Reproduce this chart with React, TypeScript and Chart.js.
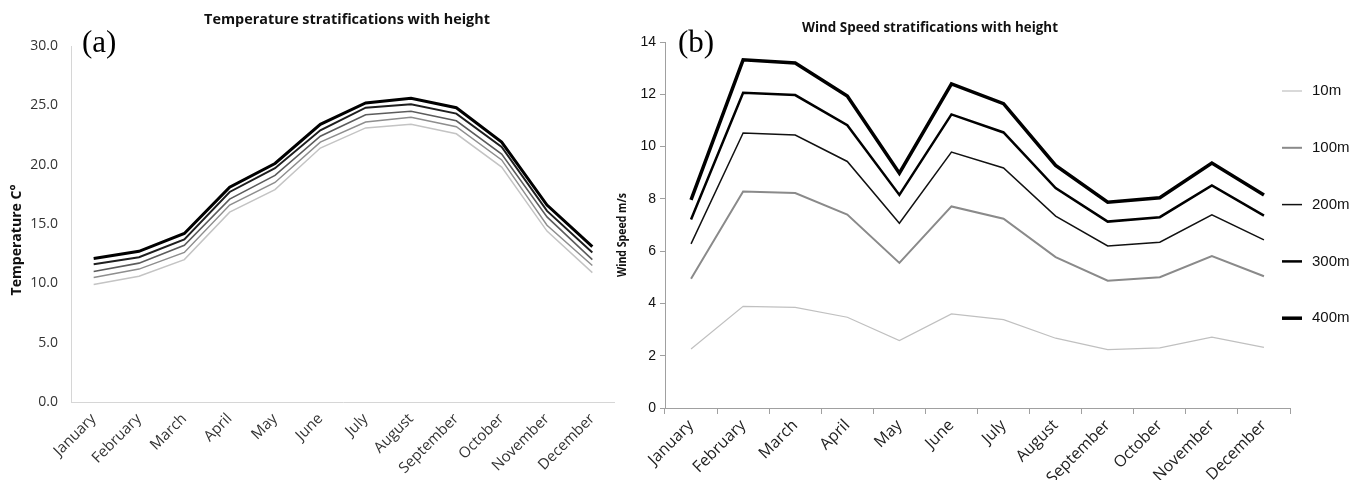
import React, { useEffect, useRef } from 'react';
import { Chart, registerables } from 'chart.js';

Chart.register(...registerables);

const months = ['January', 'February', 'March', 'April', 'May', 'June', 'July', 'August', 'September', 'October', 'November', 'December'];
const heightLabels = ['10m', '100m', '200m', '300m', '400m'];

const temp10 = [9.9, 10.6, 12.0, 16.0, 17.9, 21.4, 23.1, 23.4, 22.6, 19.8, 14.4, 10.9];
const temp100 = [10.5, 11.2, 12.6, 16.6, 18.5, 21.9, 23.6, 24.0, 23.2, 20.4, 14.9, 11.5];
const temp200 = [11.0, 11.7, 13.2, 17.1, 19.1, 22.4, 24.2, 24.5, 23.7, 20.9, 15.6, 12.0];
const temp300 = [11.6, 12.2, 13.7, 17.7, 19.7, 22.9, 24.8, 25.1, 24.3, 21.5, 16.1, 12.6];
const temp400 = [12.1, 12.7, 14.2, 18.1, 20.1, 23.4, 25.2, 25.6, 24.8, 21.9, 16.6, 13.1];

const wind10 = [2.26, 3.89, 3.85, 3.47, 2.58, 3.6, 3.38, 2.67, 2.23, 2.3, 2.71, 2.32];
const wind100 = [4.94, 8.28, 8.22, 7.4, 5.55, 7.71, 7.24, 5.77, 4.87, 5.0, 5.81, 5.04];
const wind200 = [6.28, 10.52, 10.44, 9.43, 7.07, 9.79, 9.18, 7.34, 6.2, 6.34, 7.39, 6.43];
const wind300 = [7.21, 12.06, 11.97, 10.82, 8.15, 11.23, 10.54, 8.41, 7.13, 7.3, 8.51, 7.36];
const wind400 = [7.96, 13.32, 13.2, 11.93, 8.98, 12.4, 11.64, 9.28, 7.87, 8.04, 9.37, 8.15];

const tempSeries = [temp10, temp100, temp200, temp300, temp400];
const windSeries = [wind10, wind100, wind200, wind300, wind400];

const tempColors = ['#c4c4c4', '#8e8e8e', '#5c5c5c', '#1e1e1e', '#000000'];
const tempWidths = [1.5, 1.5, 1.6, 2, 3];
const windColors = ['#c0c0c0', '#8a8a8a', '#111111', '#000000', '#000000'];
const windWidths = [1.2, 2, 1.5, 2.5, 3.5];

const CALIBRI = '"Open Sans", "Noto Sans", sans-serif';
const HELV = '"Liberation Sans", Arial, sans-serif';
const SERIF = '"Liberation Serif", "DejaVu Serif", serif';

type TextItem = { text: string; x: number; y: number; font: string; color: string; align: CanvasTextAlign; baseline: CanvasTextBaseline; rotate?: number; maxWidth?: number };

function textPlugin(id: string, items: TextItem[]) {
  return {
    id,
    afterDraw(chart: any) {
      const ctx = chart.ctx;
      for (const t of items) {
        ctx.save();
        ctx.font = t.font;
        ctx.fillStyle = t.color;
        ctx.textAlign = t.align;
        ctx.textBaseline = t.baseline;
        ctx.translate(t.x, t.y);
        if (t.rotate) ctx.rotate(t.rotate);
        if (t.maxWidth) ctx.fillText(t.text, 0, 0, t.maxWidth);
        else ctx.fillText(t.text, 0, 0);
        ctx.restore();
      }
    },
  };
}

const lineLegend = {
  id: 'lineLegend',
  afterDraw(chart: any) {
    const { ctx, chartArea } = chart;
    ctx.save();
    ctx.font = '15px ' + HELV;
    ctx.textAlign = 'left';
    ctx.textBaseline = 'middle';
    chart.data.datasets.forEach((ds: any, i: number) => {
      const y = chartArea.top + 49 + i * 56.8;
      const x = chartArea.right - 8;
      ctx.strokeStyle = ds.borderColor;
      ctx.lineWidth = ds.borderWidth;
      ctx.beginPath();
      ctx.moveTo(x, y);
      ctx.lineTo(x + 20, y);
      ctx.stroke();
      ctx.fillStyle = '#111';
      ctx.fillText(ds.label, x + 30, y);
    });
    ctx.restore();
  },
};

export default function App() {
  const leftRef = useRef<HTMLCanvasElement>(null);
  const rightRef = useRef<HTMLCanvasElement>(null);

  useEffect(() => {
    const left = new Chart(leftRef.current!, {
      type: 'line',
      data: {
        labels: months,
        datasets: tempSeries.map((d, i) => ({
          label: heightLabels[i],
          data: d,
          borderColor: tempColors[i],
          backgroundColor: tempColors[i],
          borderWidth: tempWidths[i],
          pointRadius: 0,
          tension: 0,
          fill: false,
        })),
      },
      options: {
        responsive: false,
        animation: false,
        layout: { padding: { top: 46, left: 0, right: 0, bottom: 0 } },
        plugins: { legend: { display: false }, title: { display: false }, tooltip: { enabled: false } },
        scales: {
          x: {
            offset: true,
            grid: { display: false, drawTicks: false },
            border: { display: true, color: '#d6d6d6', width: 1 },
            ticks: { maxRotation: 45, minRotation: 45, padding: 8, color: '#333', font: { family: CALIBRI, size: 15 } },
            afterFit: (s: any) => { s.height = 78; },
          },
          y: {
            min: 0,
            max: 30,
            grid: { display: false, drawTicks: false },
            border: { display: true, color: '#d6d6d6', width: 1 },
            ticks: { stepSize: 5, padding: 13, color: '#333', font: { family: CALIBRI, size: 14 }, callback: (v: any) => Number(v).toFixed(1) },
            title: { display: false },
            afterFit: (s: any) => { s.width = 71; },
          },
        },
      },
      plugins: [
        textPlugin('leftText', [
          { text: 'Temperature stratifications with height', x: 347, y: 20, font: 'bold 14.4px ' + CALIBRI, color: '#111', align: 'center', baseline: 'middle' },
          { text: '(a)', x: 82, y: 52, font: '31px ' + SERIF, color: '#000', align: 'left', baseline: 'alphabetic' },
          { text: 'Temperature C°', x: 17, y: 240, font: 'bold 14.5px ' + CALIBRI, color: '#111', align: 'center', baseline: 'middle', rotate: -Math.PI / 2, maxWidth: 111 },
        ]),
      ],
    });

    const right = new Chart(rightRef.current!, {
      type: 'line',
      data: {
        labels: months,
        datasets: windSeries.map((d, i) => ({
          label: heightLabels[i],
          data: d,
          borderColor: windColors[i],
          backgroundColor: windColors[i],
          borderWidth: windWidths[i],
          pointRadius: 0,
          tension: 0,
          fill: false,
        })),
      },
      options: {
        responsive: false,
        animation: false,
        layout: { padding: { top: 42, left: 0, right: 77, bottom: 0 } },
        plugins: { legend: { display: false }, title: { display: false }, tooltip: { enabled: false } },
        scales: {
          x: {
            offset: true,
            grid: { display: true, drawOnChartArea: false, drawTicks: true, tickLength: 6, color: '#a0a0a0', offset: true },
            border: { display: true, color: '#a0a0a0', width: 1 },
            ticks: { maxRotation: 45, minRotation: 45, padding: 2, color: '#222', font: { family: CALIBRI, size: 16 } },
            afterFit: (s: any) => { s.height = 72; },
          },
          y: {
            min: 0,
            max: 14,
            grid: { display: true, drawOnChartArea: false, drawTicks: true, tickLength: 5, color: '#a0a0a0' },
            border: { display: true, color: '#a0a0a0', width: 1 },
            ticks: { stepSize: 2, padding: 4, color: '#111', font: { family: HELV, size: 14 } },
            title: { display: false },
            afterFit: (s: any) => { s.width = 65; },
          },
        },
      },
      plugins: [
        lineLegend,
        textPlugin('rightText', [
          { text: 'Wind Speed stratifications with height', x: 330, y: 28, font: 'bold 13.4px ' + CALIBRI, color: '#111', align: 'center', baseline: 'middle' },
          { text: '(b)', x: 78, y: 52, font: '31px ' + SERIF, color: '#000', align: 'left', baseline: 'alphabetic' },
          { text: 'Wind Speed m/s', x: 22, y: 235, font: 'bold 13px ' + CALIBRI, color: '#111', align: 'center', baseline: 'middle', rotate: -Math.PI / 2, maxWidth: 84 },
        ]),
      ],
    });

    return () => {
      left.destroy();
      right.destroy();
    };
  }, []);

  return (
    <div style={{ position: 'absolute', left: 0, top: 0, width: 1367, height: 480, background: '#fff' }}>
      <canvas ref={leftRef} width={615} height={480} style={{ position: 'absolute', left: 0, top: 0 }} />
      <canvas ref={rightRef} width={767} height={480} style={{ position: 'absolute', left: 600, top: 0 }} />
    </div>
  );
}
